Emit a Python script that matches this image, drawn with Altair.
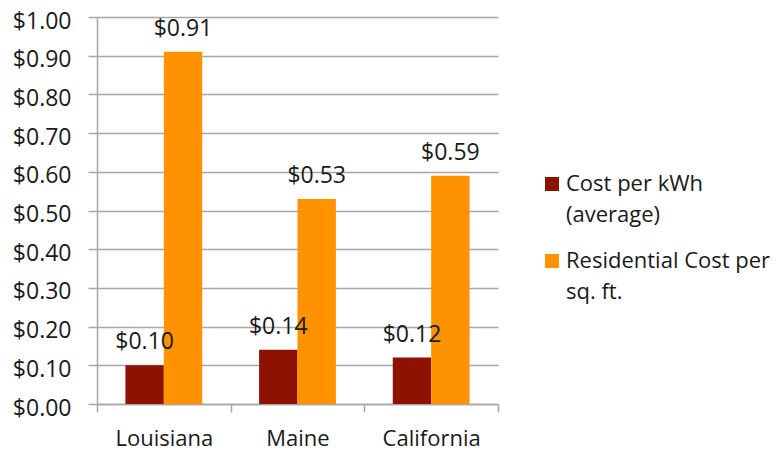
import altair as alt
import pandas as pd

states = ["Louisiana", "Maine", "California"]
series = ["Cost per kWh\n(average)", "Residential Cost per\nsq. ft."]
cost_kwh = [0.10, 0.14, 0.12]
cost_sqft = [0.91, 0.53, 0.59]
colors = ["#8E1200", "#FF9200"]
y_ticks = [0.0, 0.1, 0.2, 0.3, 0.4, 0.5, 0.6, 0.7, 0.8, 0.9, 1.0]

rows = []
for s, a, b in zip(states, cost_kwh, cost_sqft):
    rows.append({"state": s, "series": series[0], "value": a})
    rows.append({"state": s, "series": series[1], "value": b})
df = pd.DataFrame(rows)

FONT = "Open Sans"
GRID = "#A6A6A6"
TXT = "#1a1a1a"

x = alt.X("state:N", sort=states, title=None,
          scale=alt.Scale(paddingInner=0, paddingOuter=0),
          axis=alt.Axis(labelAngle=0, labelFontSize=22, labelFont=FONT, labelColor=TXT,
                        labelPadding=16, tickSize=8, tickColor=GRID, tickWidth=1.5,
                        domainColor=GRID, domainWidth=1.5, tickBand="extent", grid=False))
xo = alt.XOffset("series:N", sort=series, scale=alt.Scale(paddingInner=0, paddingOuter=0.74))
y = alt.Y("value:Q", title=None,
          scale=alt.Scale(domain=[0, 1], nice=False),
          axis=alt.Axis(values=y_ticks, format="$.2f", labelFontSize=23, labelFont=FONT,
                        labelColor=TXT, labelPadding=17, labelOffset=4, tickSize=9,
                        tickColor=GRID, tickWidth=1.5, gridColor=GRID, gridWidth=1.5,
                        domainColor=GRID, domainWidth=1.5))

bars = alt.Chart(df).mark_bar().encode(
    x=x, xOffset=xo, y=y,
    color=alt.Color("series:N", sort=series,
                    scale=alt.Scale(domain=series, range=colors),
                    legend=alt.Legend(title=None, orient="none", legendX=444, legendY=156,
                                      labelExpr="split(datum.label, '\\n')",
                                      labelFontSize=22, labelFont=FONT, labelColor=TXT,
                                      labelLimit=300,
                                      symbolType="square", symbolSize=196,
                                      symbolStrokeWidth=0, rowPadding=24, labelOffset=3)),
)

labels = alt.Chart(df).mark_text(baseline="alphabetic", dy=-16, fontSize=23, font=FONT,
                                 color=TXT).encode(
    x=x, xOffset=xo, y=y, text=alt.Text("value:Q", format="$.2f"))

chart = (bars + labels).properties(
    width=401, height=387,
    autosize=alt.AutoSizeParams(type="none"),
    padding={"left": 89, "top": 9, "right": 274, "bottom": 46},
).configure(style={"guide-label": {"lineHeight": 31}}).configure_view(strokeWidth=0)

chart.save("out.html", embed_options={"renderer": "svg", "actions": False})
